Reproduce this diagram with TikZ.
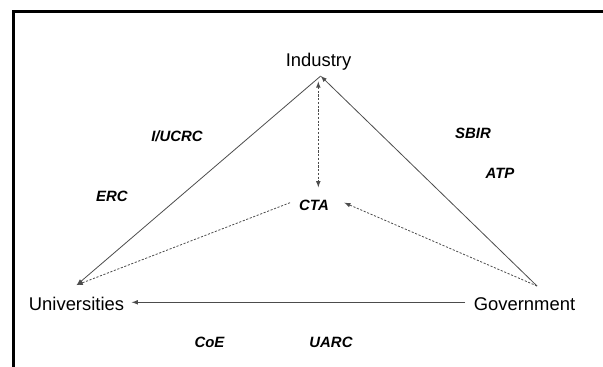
\documentclass[tikz,border=0pt]{standalone}
\usepackage{fontspec}
\setmainfont{Liberation Sans}
\usetikzlibrary{arrows}
\tikzset{
  party/.style={anchor=base, inner sep=0pt, font=\fontsize{13.8}{16}\selectfont},
  prog/.style={anchor=base, inner sep=0pt, font=\fontsize{11.2}{13}\selectfont\bfseries\itshape},
  link/.style={draw=black!70, line width=0.6pt, ->, >=latex},
  dlink/.style={link, dash pattern=on 1.6pt off 1.2pt}
}

\begin{document}
\begin{tikzpicture}[x=0.75pt,y=-0.75pt]
\useasboundingbox (0,0) rectangle (603,367);

% frame
\draw[line width=2.25pt] (13.5,367) -- (13.5,11.5) -- (603,11.5);

\coordinate (I) at (320.7,76);
\coordinate (U) at (76.7,285);
\coordinate (G) at (537,286);
\coordinate (Ua) at (131.7,302.3);
\coordinate (Ga) at (465,302.3);
\coordinate (Iup) at (318.3,81.5);
\coordinate (Cdn) at (318.3,187.3);
\coordinate (Cl) at (290,202.7);
\coordinate (Cr) at (344.3,202.7);

\node[party] (ind) at (318.5,67) {Industry};
\node[party] (uni) at (76.5,310) {Universities};
\node[party] (gov) at (524.5,310) {Government};
\node[prog] (cta) at (314,210) {CTA};

\node[prog] (iucrc) at (177,142) {I/UCRC};
\node[prog] (erc) at (112,201) {ERC};
\node[prog] (sbir) at (473,139) {SBIR};
\node[prog] (atp) at (500,179) {ATP};
\node[prog] (coe) at (209.5,347) {CoE};
\node[prog] (uarc) at (331,347) {UARC};

\draw[link] (I) -- (U);
\draw[link] (G) -- (I);
\draw[link] (Ga) -- (Ua);

\draw[dlink,<->] (Iup) -- (Cdn);
\draw[dlink] (Cl) -- (U);
\draw[dlink] (G) -- (Cr);
\end{tikzpicture}
\end{document}
